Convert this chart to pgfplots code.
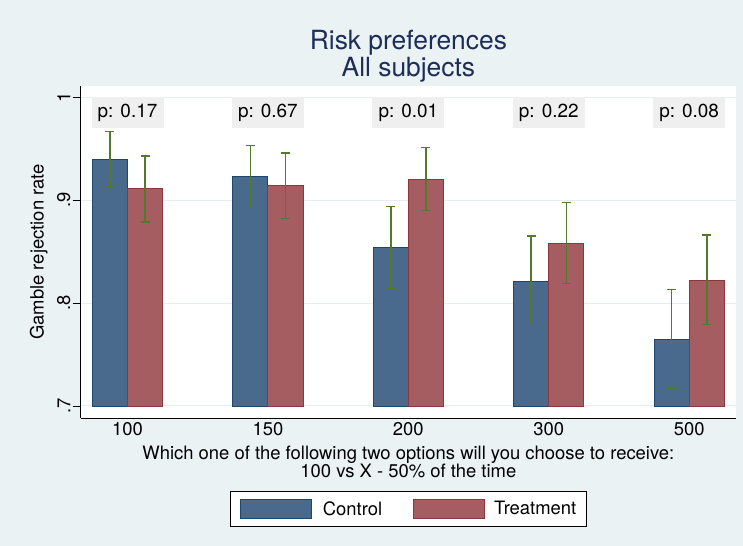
\documentclass[border=0pt]{standalone}
\usepackage{pgfplots}
\pgfplotsset{compat=1.18}
\usepackage{pgfplotstable}
\usepackage{fontspec}
\setmainfont{TeX Gyre Heros}
\definecolor{bgcol}{RGB}{234,242,243}
\definecolor{gridcol}{RGB}{228,237,239}
\definecolor{ctrlfill}{RGB}{73,106,140}
\definecolor{ctrlline}{RGB}{26,71,111}
\definecolor{trtfill}{RGB}{165,93,97}
\definecolor{trtline}{RGB}{144,53,59}
\definecolor{errcol}{RGB}{82,122,42}
\definecolor{titlecol}{RGB}{30,45,88}
\definecolor{pbox}{RGB}{239,239,239}

\pgfplotstableread{
x val lo hi
0 0.940 0.913 0.967
1 0.923 0.893 0.953
2 0.854 0.814 0.894
3 0.821 0.778 0.865
4 0.765 0.717 0.813
}\controltab
\pgfplotstableread{
x val lo hi
0 0.911 0.879 0.943
1 0.914 0.882 0.946
2 0.920 0.890 0.951
3 0.858 0.819 0.898
4 0.822 0.779 0.866
}\treattab

\tikzset{pnode/.style={fill=pbox, minimum width=72bp, minimum height=30.5bp, inner sep=0pt, font=\fontsize{19}{22}\selectfont}}
\pgfplotsset{errplot/.style={forget plot, sharp plot, draw=none, mark=none,
  error bars/.cd, y dir=both, y explicit,
  error bar style={draw=errcol, line width=1.5bp},
  error mark options={rotate=90, mark size=4.5bp, draw=errcol, line width=1.5bp}}}

\begin{document}
\begin{tikzpicture}
\fill[bgcol] (0bp,0bp) rectangle (743bp,546bp);
\node[anchor=base, text=titlecol, font=\fontsize{26.5}{30}\selectfont] at (408.4bp,496bp) {Risk preferences};
\node[anchor=base, text=titlecol, font=\fontsize{26.5}{30}\selectfont] at (408.4bp,469.3bp) {All subjects};
\begin{axis}[
  at={(80.7bp,128bp)}, anchor=south west,
  scale only axis, width=655.3bp, height=332bp,
  axis background/.style={fill=white},
  xmin=-0.3333, xmax=4.3333,
  ymin=-0.0117, ymax=0.311,
  axis x line*=bottom, axis y line*=left,
  axis line style={black, line width=0.8bp, -},
  xtick={0,1,2,3,4}, xticklabels={100,150,200,300,500},
  xtick style={draw=none},
  xticklabel style={inner sep=1bp, yshift=4.5bp},
  ytick={0,0.1,0.2,0.3}, yticklabels={.7,.8,.9,1},
  ytick style={black, line width=0.8bp},
  tick align=outside, major tick length=8bp,
  ymajorgrids, grid style={gridcol, line width=1bp},
  yticklabel style={rotate=90, anchor=south, inner sep=2bp},
  ticklabel style={font=\fontsize{18.5}{22}\selectfont},
  xlabel={Which one of the following two options will you choose to receive:\\100 vs X - 50\% of the time},
  xlabel style={align=center, font=\fontsize{18.5}{18}\selectfont, at={(axis description cs:0.5,-0.083)}, anchor=north, inner sep=0pt},
  ylabel={Gamble rejection rate},
  ylabel style={font=\fontsize{18.5}{22}\selectfont, at={(axis description cs:-0.064,0.5)}, anchor=center},
  legend style={at={(0.5,-0.274)}, anchor=center, legend columns=2, draw=black, line width=0.7bp, fill=white,
    inner xsep=10bp, inner ysep=7.5bp, font=\fontsize{18.5}{22}\selectfont,
    nodes={inner sep=0bp}},
  legend cell align=left,
  clip=false,
]
\addplot[ybar, bar width=35.1bp, bar shift=-17.55bp, fill=ctrlfill, draw=ctrlline, line width=0.9bp,
  /pgfplots/legend image code/.code={\path[draw=none,fill=none] (0bp,0bp) (82bp,0bp); \draw[fill=ctrlfill, draw=ctrlline, line width=0.9bp] (0bp,-9.5bp) rectangle (71bp,9.5bp);}]
  table[x=x, y expr=\thisrow{val}-0.7] {\controltab};
\addlegendentry{Control}
\addplot[ybar, bar width=35.1bp, bar shift=17.55bp, fill=trtfill, draw=trtline, line width=0.9bp,
  /pgfplots/legend image code/.code={\path[draw=none,fill=none] (-31bp,0bp) (81bp,0bp); \draw[fill=trtfill, draw=trtline, line width=0.9bp] (0bp,-9.5bp) rectangle (71bp,9.5bp);}]
  table[x=x, y expr=\thisrow{val}-0.7] {\treattab};
\addlegendentry{Treatment}
\addplot[errplot]
  table[x expr=\thisrow{x}-0.125, y expr=\thisrow{val}-0.7, y error plus expr=\thisrow{hi}-\thisrow{val}, y error minus expr=\thisrow{val}-\thisrow{lo}] {\controltab};
\addplot[errplot]
  table[x expr=\thisrow{x}+0.125, y expr=\thisrow{val}-0.7, y error plus expr=\thisrow{hi}-\thisrow{val}, y error minus expr=\thisrow{val}-\thisrow{lo}] {\treattab};
\node[pnode] at (axis cs:0,0.2852) {p: 0.17};
\node[pnode] at (axis cs:1,0.2852) {p: 0.67};
\node[pnode] at (axis cs:2,0.2852) {p: 0.01};
\node[pnode] at (axis cs:3,0.2852) {p: 0.22};
\node[pnode] at (axis cs:4,0.2852) {p: 0.08};
\end{axis}
\pgfresetboundingbox
\useasboundingbox (0bp,0bp) rectangle (743bp,546bp);
\end{tikzpicture}
\end{document}
